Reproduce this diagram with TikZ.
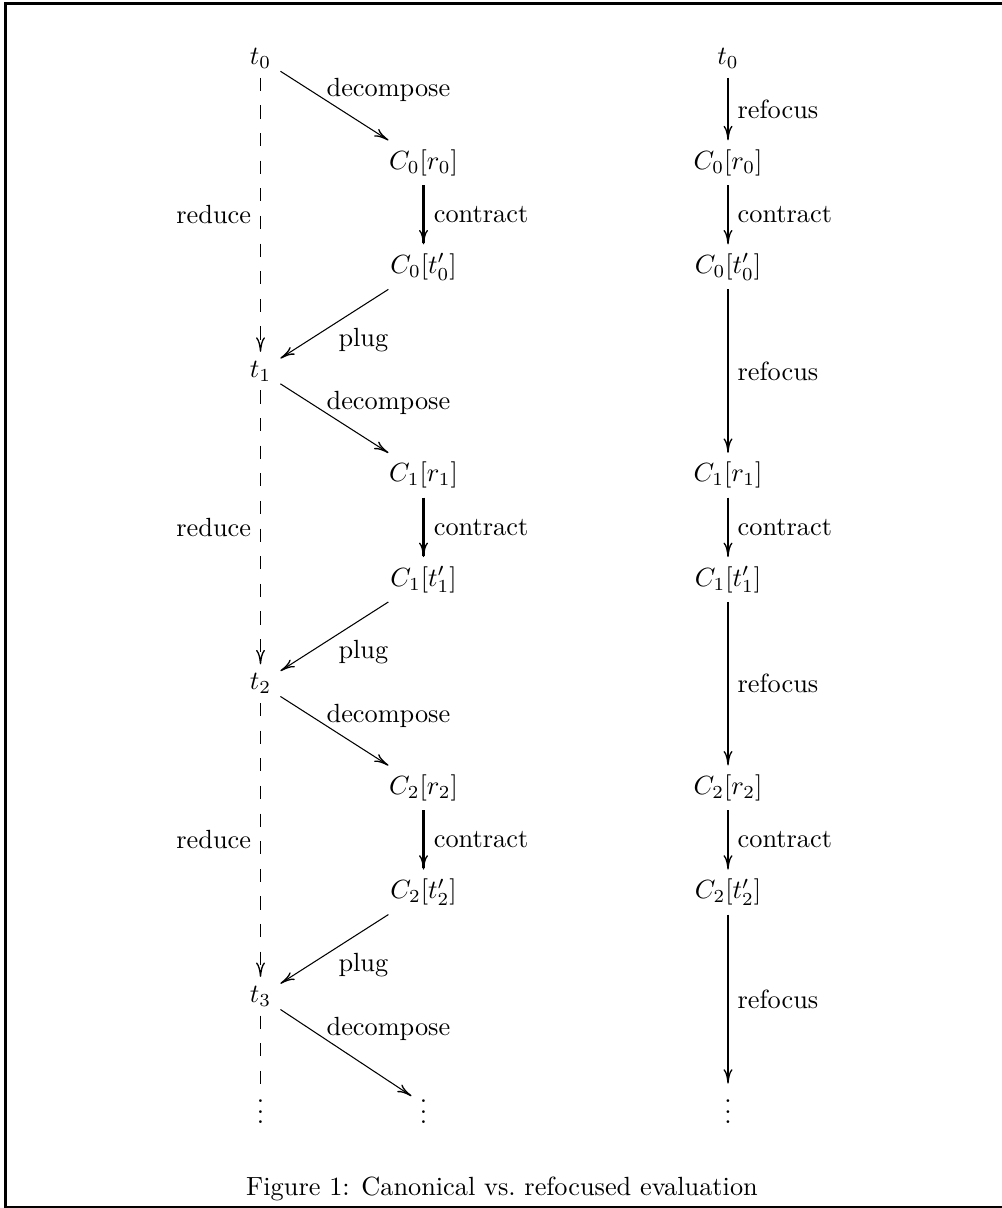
\documentclass[tikz,border=0pt]{standalone}
\usetikzlibrary{arrows.meta}
\begin{document}
\begin{tikzpicture}[x=0.3802pt,y=-0.3802pt,
  every node/.style={inner sep=3.33pt},
  cmtip/.style={-{Computer Modern Rightarrow[length=5.5pt,width=3.4pt,line width=0.5pt]}},
  thinarrow/.style={cmtip,line width=0.4pt},
  vertarrow/.style={cmtip,line width=0.7pt},
  thickarrow/.style={cmtip,line width=1.25pt},
  dasharrow/.style={cmtip,line width=0.55pt,dash pattern=on 5pt off 5.5pt},
  dashline/.style={line width=0.55pt,dash pattern=on 5pt off 5.5pt},
  dotsnode/.style={inner sep=0pt},
  frameline/.style={line width=1.3pt}]
\useasboundingbox (0,0) rectangle (1002,1208);
% frame
\draw[frameline] (1002,3.7) -- (5.5,3.7) -- (5.5,1207.6) -- (1002,1207.6);

% left (canonical) column
\node (a0) at (260.5,58.5) {$t_0$};
\node (b0) at (423.5,162.7) {$C_0[r_0]$};
\node (c0) at (423.5,266.9) {$C_0[t'_0]$};
\node (a1) at (260.5,371.1) {$t_1$};
\node (b1) at (423.5,475.3) {$C_1[r_1]$};
\node (c1) at (423.5,579.5) {$C_1[t'_1]$};
\node (a2) at (260.5,683.7) {$t_2$};
\node (b2) at (423.5,787.9) {$C_2[r_2]$};
\node (c2) at (423.5,892.1) {$C_2[t'_2]$};
\node (a3) at (260.5,996.3) {$t_3$};
\node[dotsnode] (la) at (260.5,1104) {$\vdots$};
\node[dotsnode] (ma) at (423.5,1104) {$\vdots$};

% right (refocused) column
\node (r0) at (728,58.5) {$t_0$};
\node (rb0) at (728,162.7) {$C_0[r_0]$};
\node (rc0) at (728,266.9) {$C_0[t'_0]$};
\node (rb1) at (728,475.3) {$C_1[r_1]$};
\node (rc1) at (728,579.5) {$C_1[t'_1]$};
\node (rb2) at (728,787.9) {$C_2[r_2]$};
\node (rc2) at (728,892.1) {$C_2[t'_2]$};
\node[dotsnode] (rd) at (728,1104) {$\vdots$};

% caption
\node (cap) at (502,1189) {Figure 1: Canonical vs.\ refocused evaluation};

% canonical connectors
\draw[thinarrow] (a0) -- node[pos=0,shift={(108,19)}] {decompose} (b0);
\draw[thickarrow] (b0) -- node[right] {contract} (c0);
\draw[thinarrow] (c0) -- node[shift={(29,16)}] {plug} (a1);
\draw[dasharrow] (a0) -- node[left] {reduce} (a1);

\draw[thinarrow] (a1) -- node[pos=0,shift={(108,19)}] {decompose} (b1);
\draw[thickarrow] (b1) -- node[right] {contract} (c1);
\draw[thinarrow] (c1) -- node[shift={(29,16)}] {plug} (a2);
\draw[dasharrow] (a1) -- node[left] {reduce} (a2);

\draw[thinarrow] (a2) -- node[pos=0,shift={(108,19)}] {decompose} (b2);
\draw[thickarrow] (b2) -- node[right] {contract} (c2);
\draw[thinarrow] (c2) -- node[shift={(29,16)}] {plug} (a3);
\draw[dasharrow] (a2) -- node[left] {reduce} (a3);

\draw[thinarrow,shorten >=5.5pt] (a3) -- node[pos=0,shift={(108,19)}] {decompose} (ma.center);
\draw[dashline] (a3) -- (la);

% refocused connectors
\draw[vertarrow] (r0) -- node[right] {refocus} (rb0);
\draw[vertarrow] (rb0) -- node[right] {contract} (rc0);
\draw[vertarrow] (rc0) -- node[right] {refocus} (rb1);
\draw[vertarrow] (rb1) -- node[right] {contract} (rc1);
\draw[vertarrow] (rc1) -- node[right] {refocus} (rb2);
\draw[vertarrow] (rb2) -- node[right] {contract} (rc2);
\draw[vertarrow] (rc2) -- node[right] {refocus} (rd);
\end{tikzpicture}
\end{document}
